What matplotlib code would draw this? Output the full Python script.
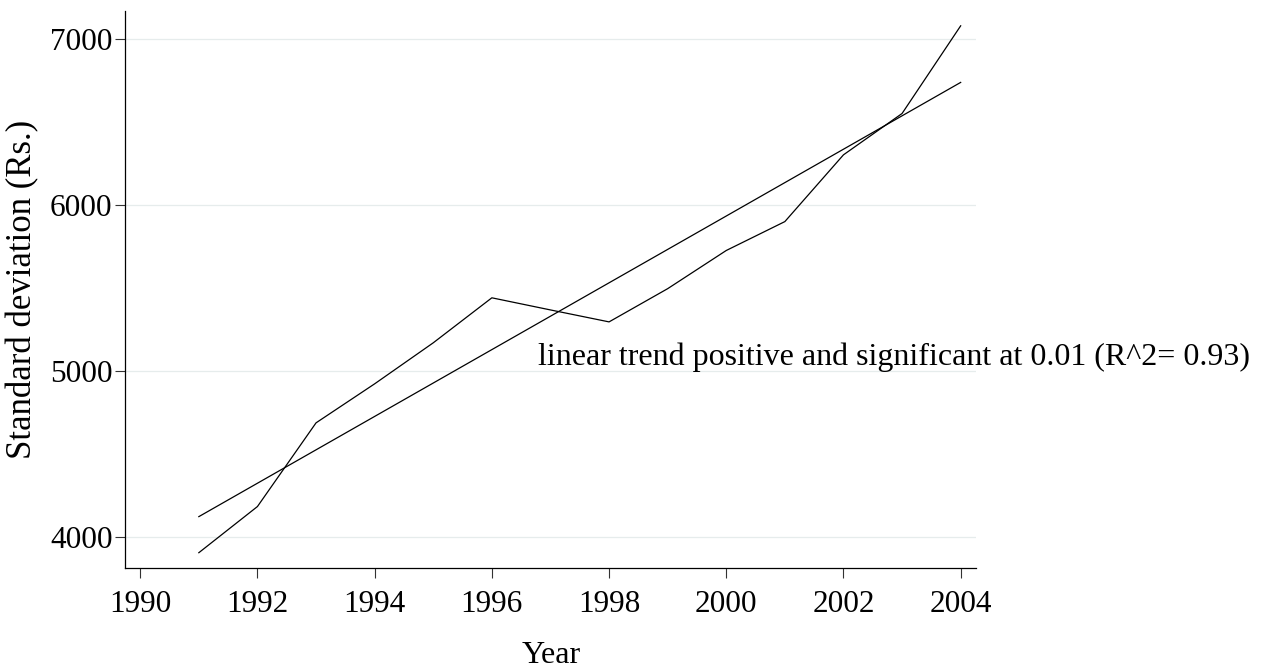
import numpy as np
import matplotlib
matplotlib.use("Agg")
import matplotlib.pyplot as plt

years = [1991, 1992, 1993, 1994, 1995, 1996, 1997, 1998, 1999, 2000, 2001, 2002, 2003, 2004]
std_dev = [3905, 4183, 4687, 4922, 5169, 5440, 5367, 5295, 5495, 5725, 5899, 6301, 6550, 7078]
x_ticks = [1990, 1992, 1994, 1996, 1998, 2000, 2002, 2004]
y_ticks = [4000, 5000, 6000, 7000]
note = "linear trend positive and significant at 0.01 (R^2= 0.93)"

plt.rcParams['font.family'] = ['Liberation Serif', 'DejaVu Serif']

fig = plt.figure(figsize=(12.69, 6.69), dpi=100)
ax = fig.add_axes([0.0985, 0.151, 0.671, 0.833])

# fitted straight line through the yearly values
slope, icpt = np.polyfit(years, std_dev, 1)
trend = [slope * y + icpt for y in years]

for v in y_ticks:
    ax.axhline(v, color='#e6ecec', lw=0.9, zorder=0)
ax.plot(years, std_dev, color='black', lw=0.9)
ax.plot(years, trend, color='black', lw=0.9)

ax.text(1996.79, 5085, note, fontsize=23, va='center', ha='left')

ax.set_xlim(1989.74, 2004.27)
ax.set_ylim(3813, 7169)
ax.set_xticks(x_ticks)
ax.set_yticks(y_ticks)
ax.tick_params(labelsize=22.5, length=7, width=0.8, color='#333333')
ax.tick_params(axis='x', pad=9)
ax.tick_params(axis='y', pad=2)
for s in ['top', 'right']:
    ax.spines[s].set_visible(False)
for s in ['left', 'bottom']:
    ax.spines[s].set_linewidth(0.9)
ax.set_xlabel("Year", fontsize=23, labelpad=16)
ax.set_ylabel("Standard deviation (Rs.)", fontsize=25, labelpad=8)

fig.savefig("out.png", dpi=100)
